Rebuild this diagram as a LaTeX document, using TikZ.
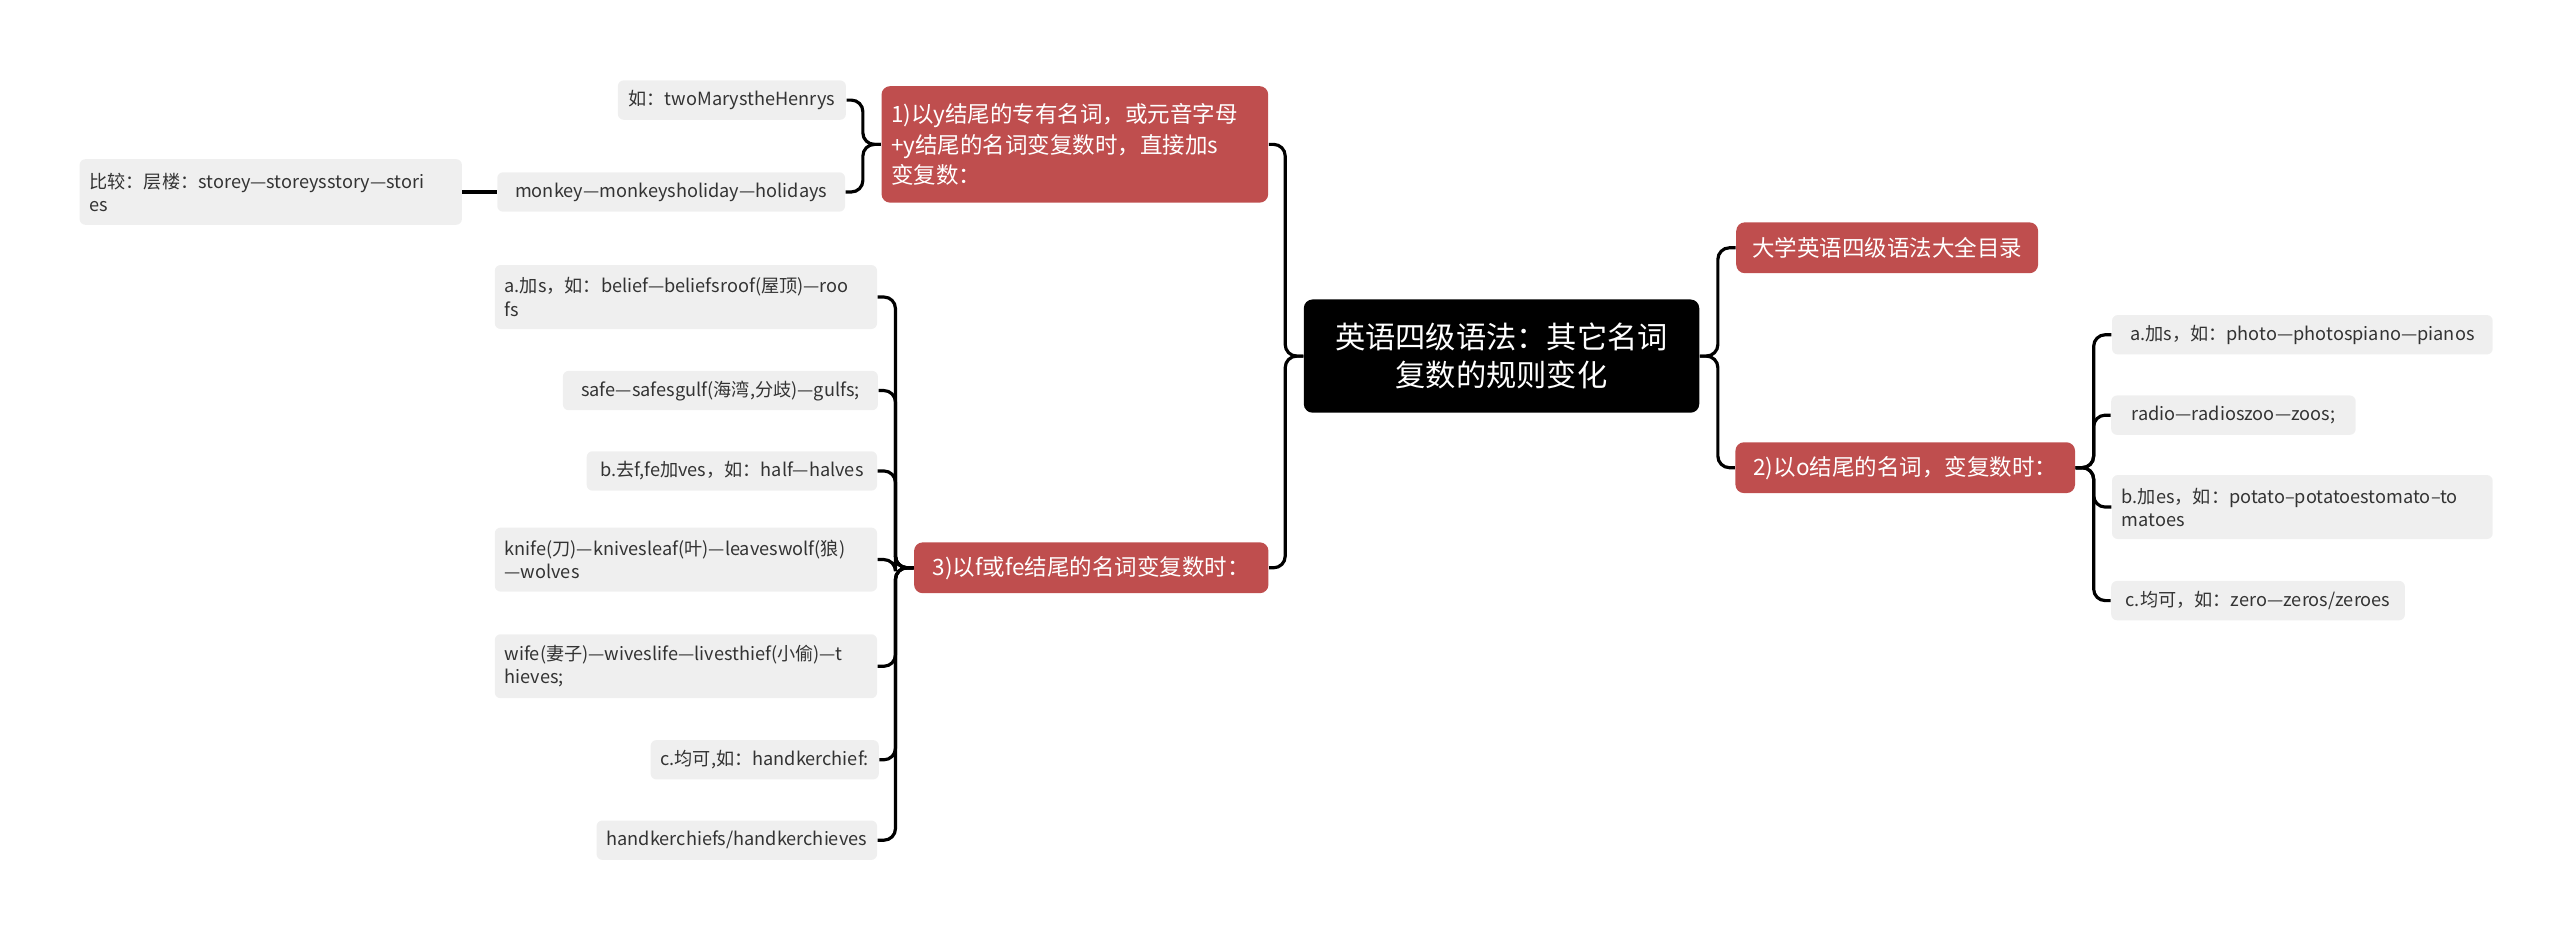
\documentclass[tikz,border=0pt]{standalone}
\usepackage{fontspec}
\setmainfont{Noto Sans CJK SC}
\usepackage{xcolor}
\definecolor{topicred}{HTML}{BF4E4E}
\definecolor{leafgray}{HTML}{EFEFEF}
\definecolor{leaftext}{HTML}{333333}

\begin{document}
\begin{tikzpicture}[x=0.02cm,y=-0.02cm,
    rootbox/.style={fill=black,text=white,rounded corners=3pt,minimum width=4.82cm,minimum height=1.38cm,align=center,font=\fontsize{10.5}{13}\selectfont},
    topic/.style={fill=topicred,text=white,rounded corners=3pt,minimum height=0.62cm,font=\fontsize{7.8}{10.5}\selectfont},
    leaf/.style={fill=leafgray,text=leaftext,rounded corners=2pt,minimum height=0.48cm,inner xsep=0.12cm,font=\fontsize{6.3}{8}\selectfont},
    conn/.style={line width=1.1pt,rounded corners=4pt}]
        % Canvas
        \useasboundingbox (0,0) rectangle (1560,570);

        % Root
        \node[rootbox] (root) at (915,217) {英语四级语法：其它名词\\复数的规则变化};

        % Right topics
        \node[topic,minimum width=3.68cm] (toc) at (1150,151) {大学英语四级语法大全目录};
        \node[topic,minimum width=4.14cm] (endo) at (1161,285) {2)以o结尾的名词，变复数时：};

        % Right leaves
        \node[leaf,minimum width=4.64cm] (o1) at (1403,204) {a.加s，如：photo---photospiano---pianos};
        \node[leaf,minimum width=2.98cm] (o2) at (1361,253) {radio---radioszoo---zoos;};
        \node[leaf,minimum height=0.78cm,text width=4.4cm,align=left] (o3) at (1403,309) {b.加es，如：potato--potatoestomato--to\\matoes};
        \node[leaf,minimum width=3.58cm] (o4) at (1376,366) {c.均可，如：zero---zeros/zeroes};

        % Left topics
        \node[topic,minimum height=1.42cm,text width=4.48cm,align=left] (endy) at (655,88) {1)以y结尾的专有名词，或元音字母\\+y结尾的名词变复数时，直接加s\\变复数：};
        \node[topic,minimum width=4.32cm] (endf) at (665,346) {3)以f或fe结尾的名词变复数时：};

        % Leaves of 1)
        \node[leaf,minimum width=2.78cm] (y1) at (446,61) {如：twoMarystheHenrys};
        \node[leaf,minimum width=4.24cm] (y2) at (409,117) {monkey---monkeysholiday---holidays};
        \node[leaf,minimum height=0.8cm,text width=4.42cm,align=left] (y3) at (165,117) {比较：层楼：storey---storeysstory---stori\\es};

        % Leaves of 3)
        \node[leaf,minimum height=0.78cm,text width=4.42cm,align=left] (f1) at (418,181) {a.加s，如：belief---beliefsroof(屋顶)---roo\\fs};
        \node[leaf,minimum width=3.84cm] (f2) at (439,238) {safe---safesgulf(海湾,分歧)---gulfs;};
        \node[leaf,minimum width=3.54cm] (f3) at (446,287) {b.去f,fe加ves，如：half---halves};
        \node[leaf,minimum height=0.78cm,text width=4.42cm,align=left] (f4) at (418,341) {knife(刀)---knivesleaf(叶)---leaveswolf(狼)\\---wolves};
        \node[leaf,minimum height=0.78cm,text width=4.42cm,align=left] (f5) at (418,406) {wife(妻子)---wiveslife---livesthief(小偷)---t\\hieves;};
        \node[leaf,minimum width=2.74cm] (f6) at (466,463) {c.均可,如：handkerchief:};
        \node[leaf,minimum width=3.42cm] (f7) at (449,512) {handkerchiefs/handkerchieves};

        % Connectors
        \foreach \c in {toc,endo}
            \draw[conn] (root.east) -- ++(11,0) |- (\c.west);
        \foreach \c in {o1,o2,o3,o4}
            \draw[conn] (endo.east) -- ++(11,0) |- (\c.west);
        \foreach \c in {endy,endf}
            \draw[conn] (root.west) -- ++(-11,0) |- (\c.east);
        \foreach \c in {y1,y2}
            \draw[conn] (endy.west) -- ++(-11,0) |- (\c.east);
        \draw[conn] (y2.west) -- (y3.east);
        \foreach \c in {f1,f2,f3,f4,f5,f6,f7}
            \draw[conn] (endf.west) -- ++(-11,0) |- (\c.east);
\end{tikzpicture}
\end{document}
